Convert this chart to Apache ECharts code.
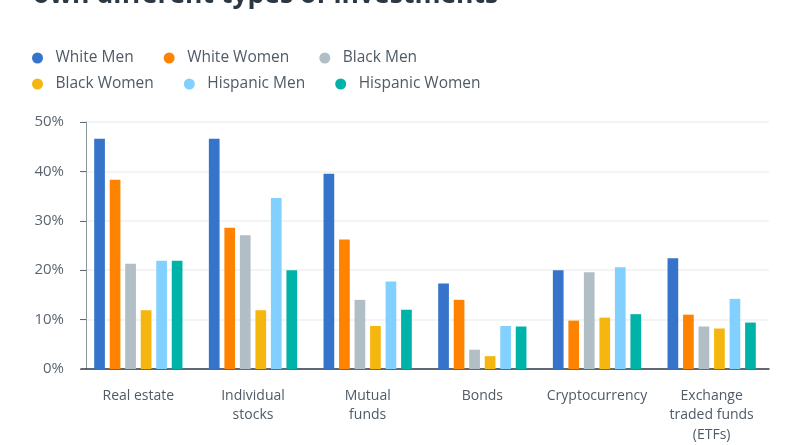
<!DOCTYPE html>
<html>
<head>
<meta charset="utf-8">
<script src="https://cdn.jsdelivr.net/npm/echarts@6/dist/echarts.min.js"></script>
<style>
html,body{margin:0;padding:0;background:#fff;}
#c{width:800px;height:445px;}
</style>
</head>
<body>
<div id="c"></div>
<script>
var categories = ['Real estate', 'Individual\nstocks', 'Mutual\nfunds', 'Bonds', 'Cryptocurrency', 'Exchange\ntraded funds\n(ETFs)'];
var seriesNames = ['White Men', 'White Women', 'Black Men', 'Black Women', 'Hispanic Men', 'Hispanic Women'];
var whiteMen = [46.6, 46.6, 39.5, 17.3, 20.0, 22.4];
var whiteWomen = [38.3, 28.6, 26.2, 14.0, 9.8, 11.0];
var blackMen = [21.3, 27.1, 14.0, 3.9, 19.6, 8.6];
var blackWomen = [11.9, 11.9, 8.7, 2.6, 10.4, 8.2];
var hispanicMen = [21.9, 34.6, 17.7, 8.7, 20.6, 14.2];
var hispanicWomen = [21.9, 20.0, 12.0, 8.6, 11.1, 9.4];
var yTicks = [0, 10, 20, 30, 40, 50];
var colors = ['#3574CA', '#FF8300', '#B1BEC5', '#F5B60F', '#82D0FF', '#00B3A8'];

var allData = [whiteMen, whiteWomen, blackMen, blackWomen, hispanicMen, hispanicWomen];
var FONT = '"Open Sans", "Noto Sans", sans-serif';

function legendCfg(top, names) {
  return {
    left: 27,
    top: top,
    orient: 'horizontal',
    itemWidth: 22,
    itemHeight: 11,
    itemGap: 30,
    icon: 'circle',
    textStyle: {fontSize: 15.5, color: '#4f5b67', fontFamily: FONT, padding: [0, 0, 0, 2]},
    data: names
  };
}

var chart = echarts.init(document.getElementById('c'), null, {renderer: 'canvas'});
chart.setOption({
  animation: false,
  color: colors,
  textStyle: {fontFamily: FONT},
  graphic: [{
    type: 'text',
    left: 33,
    top: -18,
    style: {
      text: 'own different types of investments',
      font: 'bold 26.5px ' + FONT,
      fill: '#2b3743'
    }
  }],
  legend: [legendCfg(45, seriesNames.slice(0, 3)), legendCfg(71, seriesNames.slice(3))],
  grid: {left: 81, right: 31, top: 122, bottom: 76, containLabel: false, outerBoundsMode: 'none'},
  xAxis: {
    type: 'category',
    data: categories,
    axisLine: {show: true, lineStyle: {color: '#2f3b47', width: 1.5}},
    axisTick: {show: false},
    axisLabel: {fontSize: 14, color: '#4f5b67', margin: 17, lineHeight: 19.5, fontFamily: FONT, interval: 0}
  },
  yAxis: {
    type: 'value',
    min: yTicks[0],
    max: yTicks[yTicks.length - 1],
    interval: 10,
    offset: -5,
    axisLine: {show: true, lineStyle: {color: '#8a96a0', width: 1}},
    axisTick: {show: true, length: 6, lineStyle: {color: '#5d6a76'}},
    axisLabel: {fontSize: 15, color: '#5b6671', margin: 22, fontFamily: FONT, formatter: function (v) { return v + '%'; }},
    splitLine: {show: true, lineStyle: {color: '#f0f0f0', width: 1.5}}
  },
  series: seriesNames.map(function (name, i) {
    return {
      name: name,
      type: 'bar',
      data: allData[i],
      barWidth: 10.7,
      barGap: '45%',
      itemStyle: {color: colors[i]}
    };
  })
});
</script>
</body>
</html>
